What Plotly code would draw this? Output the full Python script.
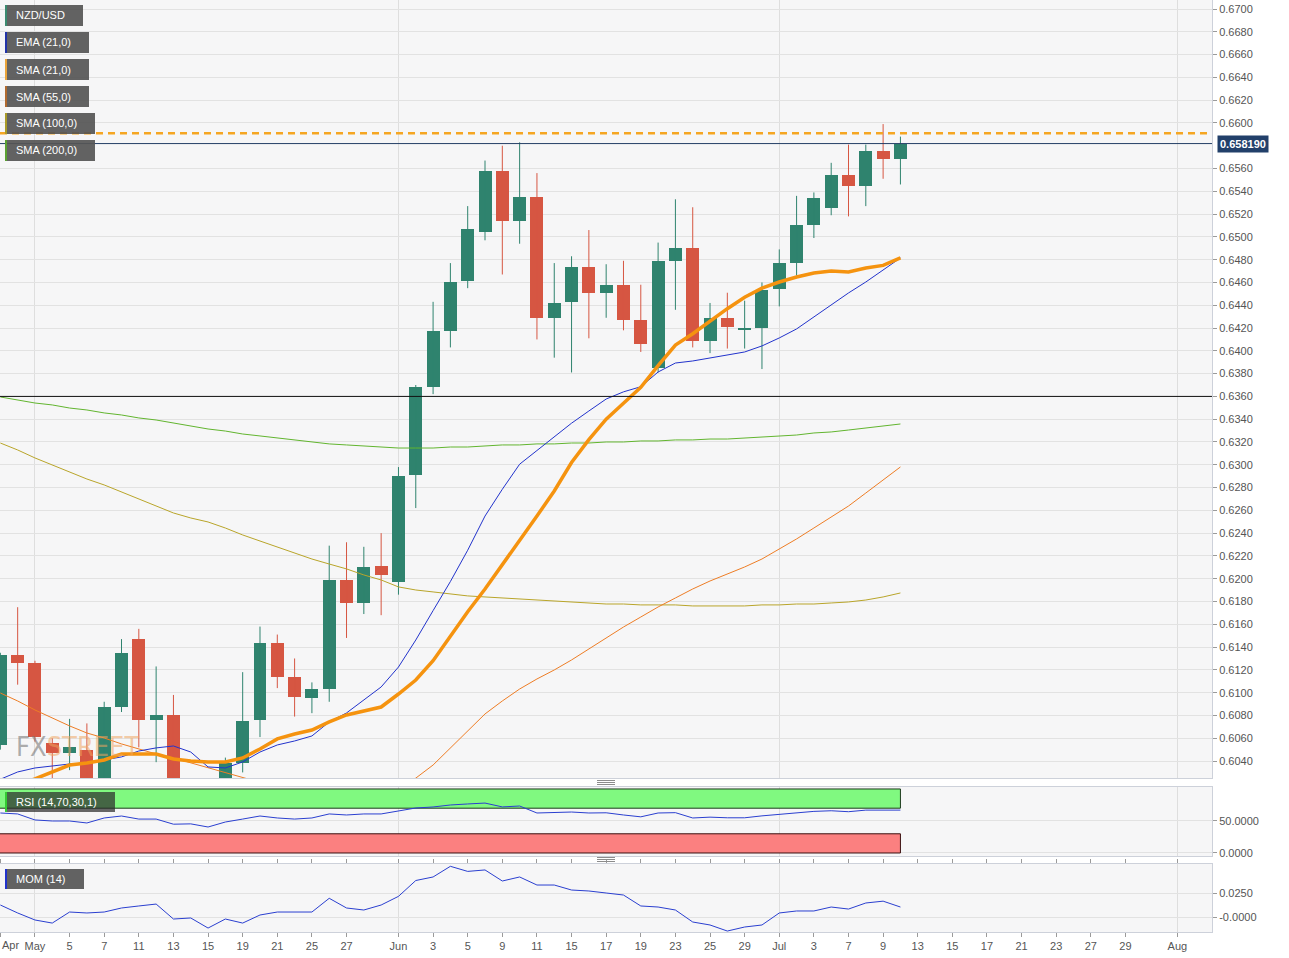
import plotly.graph_objects as go

# ---------------- data (trading days, NZD/USD daily) ----------------
dates = ["2020-04-29", "2020-04-30", "2020-05-01", "2020-05-04", "2020-05-05", "2020-05-06",
         "2020-05-07", "2020-05-08", "2020-05-11", "2020-05-12", "2020-05-13", "2020-05-14",
         "2020-05-15", "2020-05-18", "2020-05-19", "2020-05-20", "2020-05-21", "2020-05-22",
         "2020-05-25", "2020-05-26", "2020-05-27", "2020-05-28", "2020-05-29", "2020-06-01",
         "2020-06-02", "2020-06-03", "2020-06-04", "2020-06-05", "2020-06-08", "2020-06-09",
         "2020-06-10", "2020-06-11", "2020-06-12", "2020-06-15", "2020-06-16", "2020-06-17",
         "2020-06-18", "2020-06-19", "2020-06-22", "2020-06-23", "2020-06-24", "2020-06-25",
         "2020-06-26", "2020-06-29", "2020-06-30", "2020-07-01", "2020-07-02", "2020-07-03",
         "2020-07-06", "2020-07-07", "2020-07-08", "2020-07-09", "2020-07-10"]

opens = [0.6054, 0.6133, 0.6126, 0.6056, 0.6047, 0.6050, 0.6002, 0.6087, 0.6147, 0.6076,
         0.6080, 0.5985, 0.5998, 0.5938, 0.6038, 0.6076, 0.6144, 0.6114, 0.6095, 0.6103,
         0.6199, 0.6179, 0.6211, 0.6197, 0.6291, 0.6368, 0.6417, 0.6461, 0.6504, 0.6558,
         0.6514, 0.6535, 0.6429, 0.6443, 0.6474, 0.6451, 0.6458, 0.6427, 0.6385, 0.6479,
         0.6490, 0.6409, 0.6429, 0.6418, 0.6420, 0.6454, 0.6477, 0.6510, 0.6525, 0.6554,
         0.6545, 0.6575, 0.6568]
highs = [0.6135, 0.6175, 0.6128, 0.6060, 0.6077, 0.6073, 0.6092, 0.6147, 0.6156, 0.6123,
         0.6098, 0.6015, 0.6005, 0.6043, 0.6118, 0.6158, 0.6151, 0.6130, 0.6109, 0.6229,
         0.6232, 0.6228, 0.6240, 0.6298, 0.6370, 0.6443, 0.6477, 0.6527, 0.6567, 0.6580,
         0.6583, 0.6556, 0.6477, 0.6483, 0.6506, 0.6476, 0.6479, 0.6458, 0.6495, 0.6533,
         0.6526, 0.6442, 0.6451, 0.6444, 0.6460, 0.6489, 0.6536, 0.6539, 0.6565, 0.6581,
         0.6581, 0.6599, 0.6588]
lows = [0.6050, 0.6107, 0.6057, 0.6015, 0.6032, 0.5985, 0.5990, 0.6083, 0.6052, 0.6039,
        0.5975, 0.5960, 0.5920, 0.5930, 0.6030, 0.6061, 0.6104, 0.6079, 0.6082, 0.6092,
        0.6148, 0.6169, 0.6168, 0.6186, 0.6262, 0.6362, 0.6403, 0.6455, 0.6497, 0.6467,
        0.6494, 0.6410, 0.6394, 0.6381, 0.6411, 0.6429, 0.6418, 0.6399, 0.6381, 0.6436,
        0.6403, 0.6398, 0.6402, 0.6402, 0.6384, 0.6439, 0.6466, 0.6499, 0.6519, 0.6518,
        0.6527, 0.6551, 0.6546]
closes = [0.6133, 0.6126, 0.6061, 0.6047, 0.6052, 0.6000, 0.6087, 0.6135, 0.6076, 0.6080,
          0.5985, 0.5998, 0.5935, 0.6038, 0.6075, 0.6144, 0.6114, 0.6096, 0.6103, 0.6199,
          0.6179, 0.6210, 0.6203, 0.6290, 0.6368, 0.6417, 0.6460, 0.6507, 0.6558, 0.6514,
          0.6535, 0.6429, 0.6442, 0.6474, 0.6451, 0.6458, 0.6427, 0.6406, 0.6479, 0.6490,
          0.6409, 0.6429, 0.6421, 0.6420, 0.6453, 0.6477, 0.6510, 0.6534, 0.6554, 0.6545,
          0.6575, 0.6568, 0.65819]

ema21 = [0.6024, 0.60304, 0.60339, 0.60357, 0.60374, 0.60383, 0.60409, 0.60436, 0.60488, 0.60515,
         0.60532, 0.60479, 0.60348, 0.60339, 0.60392, 0.60479, 0.60541, 0.60576, 0.60620, 0.60743,
         0.60822, 0.60936, 0.61050, 0.61225, 0.61462, 0.61720, 0.61975, 0.62250, 0.62550, 0.62785,
         0.63005, 0.63125, 0.63245, 0.63365, 0.63472, 0.63577, 0.63640, 0.63685, 0.63814, 0.63893,
         0.63911, 0.63937, 0.63964, 0.63990, 0.64043, 0.64113, 0.64192, 0.64297, 0.64402, 0.64508,
         0.64604, 0.64710, 0.64815]
sma21 = [0.6012, 0.6019, 0.60243, 0.60304, 0.60365, 0.60383, 0.60409, 0.60462, 0.60462, 0.60462,
         0.60418, 0.60400, 0.60392, 0.60392, 0.60427, 0.60506, 0.60594, 0.60637, 0.60672, 0.60743,
         0.60804, 0.60839, 0.60874, 0.60988, 0.61111, 0.61280, 0.61500, 0.61710, 0.61910, 0.62120,
         0.62340, 0.62550, 0.62770, 0.63020, 0.63220, 0.63400, 0.63540, 0.63680, 0.63870, 0.64051,
         0.64150, 0.64260, 0.64370, 0.64470, 0.64550, 0.64604, 0.64648, 0.64683, 0.64701, 0.64692,
         0.64727, 0.64750, 0.64815]
sma55 = [0.60997, 0.60927, 0.60848, 0.60778, 0.60708, 0.60646, 0.60602, 0.60550, 0.60506, 0.60462,
         0.60427, 0.60383, 0.60339, 0.60295, 0.60251, 0.6021, 0.6017, 0.6014, 0.6012, 0.6011,
         0.6010, 0.6010, 0.6011, 0.6015, 0.6025, 0.60365, 0.60515, 0.60672, 0.60813, 0.60927,
         0.61032, 0.61120, 0.61199, 0.61287, 0.61383, 0.61480, 0.61576, 0.61664, 0.61752, 0.61831,
         0.61910, 0.61980, 0.62042, 0.62103, 0.62173, 0.62261, 0.62349, 0.62445, 0.62542, 0.62638,
         0.62752, 0.62867, 0.62981]
sma100 = [0.63191, 0.63130, 0.63060, 0.62998, 0.62937, 0.62875, 0.62823, 0.62761, 0.62700, 0.62638,
          0.62577, 0.62533, 0.62498, 0.62445, 0.62384, 0.62331, 0.62279, 0.62226, 0.62173, 0.62129,
          0.62086, 0.62033, 0.61989, 0.61928, 0.61901, 0.61884, 0.61866, 0.61849, 0.61840, 0.61831,
          0.61822, 0.61813, 0.61805, 0.61796, 0.61787, 0.61778, 0.61778, 0.61770, 0.61770, 0.61770,
          0.61761, 0.61761, 0.61761, 0.61761, 0.61770, 0.61770, 0.61778, 0.61778, 0.61787, 0.61796,
          0.61813, 0.61840, 0.61875]
sma200 = [0.63595, 0.63569, 0.63542, 0.63525, 0.63498, 0.63481, 0.63455, 0.63437, 0.63411, 0.63393,
          0.63367, 0.63340, 0.63314, 0.63296, 0.63270, 0.63253, 0.63235, 0.63218, 0.63200, 0.63183,
          0.63174, 0.63165, 0.63156, 0.63147, 0.63147, 0.63147, 0.63156, 0.63156, 0.63165, 0.63174,
          0.63174, 0.63183, 0.63183, 0.63191, 0.63191, 0.63200, 0.63200, 0.63209, 0.63209, 0.63218,
          0.63218, 0.63226, 0.63226, 0.63235, 0.63244, 0.63253, 0.63261, 0.63279, 0.63288, 0.63305,
          0.63323, 0.63340, 0.63358]

rsi14 = [62.5, 61.0, 51.6, 50.0, 50.0, 46.9, 54.7, 57.8, 53.0, 53.0,
         45.0, 45.5, 40.6, 48.4, 53.0, 57.8, 54.7, 53.0, 54.7, 61.0,
         59.4, 61.0, 61.0, 65.6, 70.3, 71.9, 75.0, 76.6, 78.0, 72.0,
         73.4, 62.5, 63.0, 64.0, 62.5, 62.8, 59.4, 56.5, 62.5, 63.0,
         54.7, 56.0, 55.0, 55.0, 58.0, 60.5, 63.0, 65.0, 66.0, 64.5,
         67.0, 66.5, 67.0]
mom14 = [0.0125, 0.0042, -0.0031, -0.0063, 0.0052, 0.0042, 0.0052, 0.0094, 0.0115, 0.0135,
         -0.0021, -0.0010, -0.0115, -0.0021, -0.0063, 0.0021, 0.0052, 0.0052, 0.0052, 0.0195,
         0.0094, 0.0073, 0.0125, 0.0215, 0.0380, 0.0417, 0.0528, 0.0475, 0.0490, 0.0375,
         0.0417, 0.0333, 0.0333, 0.0281, 0.0271, 0.0250, 0.0229, 0.0115, 0.0104, 0.0073,
         -0.0052, -0.0083, -0.0146, -0.0104, -0.0083, 0.0042, 0.0063, 0.0063, 0.0104, 0.0083,
         0.0146, 0.0165, 0.0104]

tick_pos = [0, 2, 4, 6, 8, 10, 12, 14, 16, 18, 20, 23, 25, 27, 29, 31, 33, 35, 37, 39, 41,
            43, 45, 47, 49, 51, 53, 55, 57, 59, 61, 63, 65, 68]
tick_text = ["", "May", "5", "7", "11", "13", "15", "19", "21", "25", "27", "Jun", "3", "5",
             "9", "11", "15", "17", "19", "23", "25", "29", "Jul", "3", "7", "9", "13", "15",
             "17", "21", "23", "27", "29", "Aug"]
first_tick_label = "Apr"
month_starts = [2, 23, 45, 68]

price_ticks = [0.6040, 0.6060, 0.6080, 0.6100, 0.6120, 0.6140, 0.6160, 0.6180, 0.6200,
               0.6220, 0.6240, 0.6260, 0.6280, 0.6300, 0.6320, 0.6340, 0.6360, 0.6380,
               0.6400, 0.6420, 0.6440, 0.6460, 0.6480, 0.6500, 0.6520, 0.6540, 0.6560,
               0.6600, 0.6620, 0.6640, 0.6660, 0.6680, 0.6700]
rsi_ticks = [0, 50]
rsi_tick_text = ["0.0000", "50.0000"]
mom_ticks = [0, 0.025]
mom_tick_text = ["-0.0000", "0.0250"]

support_level = 0.6360
resistance_level = 0.6591
last_price = 0.658190

legend_items = ["NZD/USD", "EMA (21,0)", "SMA (21,0)", "SMA (55,0)", "SMA (100,0)", "SMA (200,0)"]

# ---------------- styling ----------------
GREEN = "#2f836e"
RED = "#d65642"
FONT = "Liberation Sans, Arial, sans-serif"
PW, PH = 1212.0, 932.0  # plot area in px


def px(x):
    return x / PW


def py(y):
    return (PH - y) / PH


xs = list(range(len(dates)))
inc = [i for i in xs if closes[i] >= opens[i]]
dec = [i for i in xs if closes[i] < opens[i]]

fig = go.Figure()


def wick_trace(idx, color):
    wx, wy = [], []
    for i in idx:
        wx += [i, i, None]
        wy += [lows[i], highs[i], None]
    return go.Scatter(x=wx, y=wy, mode="lines", line=dict(color=color, width=1),
                      hoverinfo="skip", yaxis="y")


fig.add_trace(wick_trace(inc, GREEN))
fig.add_trace(wick_trace(dec, RED))
fig.add_trace(go.Bar(x=inc, y=[closes[i] - opens[i] for i in inc], base=[opens[i] for i in inc],
                     width=0.75, marker=dict(color=GREEN, line=dict(width=0)),
                     customdata=[dates[i] for i in inc], yaxis="y", name="up"))
fig.add_trace(go.Bar(x=dec, y=[closes[i] - opens[i] for i in dec], base=[opens[i] for i in dec],
                     width=0.75, marker=dict(color=RED, line=dict(width=0)),
                     customdata=[dates[i] for i in dec], yaxis="y", name="down"))

fig.add_trace(go.Scatter(x=xs, y=sma200, mode="lines", line=dict(color="#62b52f", width=1), yaxis="y"))
fig.add_trace(go.Scatter(x=xs, y=sma100, mode="lines", line=dict(color="#b9a52a", width=1), yaxis="y"))
fig.add_trace(go.Scatter(x=xs, y=sma55, mode="lines", line=dict(color="#ee7d25", width=1), yaxis="y"))
fig.add_trace(go.Scatter(x=xs, y=ema21, mode="lines", line=dict(color="#2233cc", width=1), yaxis="y"))
fig.add_trace(go.Scatter(x=xs, y=sma21, mode="lines", line=dict(color="#f5930f", width=3.5), yaxis="y"))

fig.add_trace(go.Scatter(x=xs, y=rsi14, mode="lines", line=dict(color="#2a3fd0", width=1), yaxis="y2"))
fig.add_trace(go.Scatter(x=xs, y=mom14, mode="lines", line=dict(color="#2a3fd0", width=1), yaxis="y3"))

shapes = []
# horizontal level lines
shapes.append(dict(type="line", xref="paper", yref="y", x0=0, x1=1, y0=support_level, y1=support_level,
                   line=dict(color="#111111", width=1)))
shapes.append(dict(type="line", xref="paper", yref="y", x0=0, x1=1, y0=last_price, y1=last_price,
                   line=dict(color="#243e66", width=1)))
shapes.append(dict(type="line", xref="paper", yref="y", x0=0, x1=1, y0=resistance_level, y1=resistance_level,
                   line=dict(color="#f5a623", width=2.5, dash="7px,5px")))
# RSI zones (above grid, below traces)
shapes.append(dict(type="rect", xref="x", yref="y2", x0=-1, x1=xs[-1], y0=70, y1=100,
                   fillcolor="#80f980", line=dict(color="#1d3a1d", width=1), layer="between"))
shapes.append(dict(type="rect", xref="x", yref="y2", x0=-1, x1=xs[-1], y0=0, y1=30,
                   fillcolor="#fb8080", line=dict(color="#3a1010", width=1), layer="between"))
# panel drag handles
for yy in (780.5, 782.5, 784.5, 857.5, 859.5, 861.5):
    shapes.append(dict(type="line", xref="paper", yref="paper", x0=px(597), x1=px(615),
                       y0=py(yy), y1=py(yy), line=dict(color="#8c8c8c", width=1)))

annotations = []
# legend boxes
box_rights = [83, 89, 89, 89, 95, 95]
bar_colors = ["#3a8a70", "#2233a8", "#e8a33a", "#b06a30", "#a89a28", "#5aa032"]
for k, label in enumerate(legend_items):
    top = 5 + 27 * k
    shapes.append(dict(type="rect", xref="paper", yref="paper", x0=px(5), x1=px(box_rights[k]),
                       y0=py(top + 21), y1=py(top), fillcolor="rgba(85,85,85,0.92)",
                       line=dict(width=0), layer="above"))
    shapes.append(dict(type="rect", xref="paper", yref="paper", x0=px(5), x1=px(7),
                       y0=py(top + 21), y1=py(top), fillcolor=bar_colors[k],
                       line=dict(width=0), layer="above"))
    annotations.append(dict(xref="paper", yref="paper", x=px(14), y=py(top + 10.5), text=label,
                            showarrow=False, xanchor="left", yanchor="middle",
                            font=dict(family=FONT, size=11, color="white")))

# RSI / MOM labels
shapes.append(dict(type="rect", xref="paper", yref="paper", x0=px(5), x1=px(115), y0=py(812), y1=py(792),
                   fillcolor="rgba(45,45,45,0.72)", line=dict(width=0), layer="above"))
shapes.append(dict(type="rect", xref="paper", yref="paper", x0=px(5), x1=px(7), y0=py(812), y1=py(792),
                   fillcolor="#33cc33", line=dict(width=0), layer="above"))
annotations.append(dict(xref="paper", yref="paper", x=px(14), y=py(802), text="RSI (14,70,30,1)",
                        showarrow=False, xanchor="left", yanchor="middle",
                        font=dict(family=FONT, size=11, color="white")))
shapes.append(dict(type="rect", xref="paper", yref="paper", x0=px(5), x1=px(84), y0=py(889), y1=py(869),
                   fillcolor="rgba(85,85,85,0.92)", line=dict(width=0), layer="above"))
shapes.append(dict(type="rect", xref="paper", yref="paper", x0=px(5), x1=px(7), y0=py(889), y1=py(869),
                   fillcolor="#2233cc", line=dict(width=0), layer="above"))
annotations.append(dict(xref="paper", yref="paper", x=px(14), y=py(879), text="MOM (14)",
                        showarrow=False, xanchor="left", yanchor="middle",
                        font=dict(family=FONT, size=11, color="white")))

# last price tag
annotations.append(dict(xref="paper", yref="y", x=1, y=last_price, text="<b>%.6f</b>" % last_price,
                        showarrow=False, xanchor="left", yanchor="middle", xshift=5,
                        bgcolor="#22406a", borderpad=2,
                        font=dict(family=FONT, size=11, color="white")))
# first x tick label
annotations.append(dict(xref="paper", yref="paper", x=0, y=py(945), text=first_tick_label,
                        showarrow=False, xanchor="left", yanchor="middle",
                        font=dict(family=FONT, size=11, color="#555555")))
# FXStreet mark
annotations.append(dict(xref="paper", yref="paper", x=px(14), y=py(746),
                        text='<span style="color:rgba(120,120,120,0.6)">FX</span>'
                             '<span style="color:rgba(240,165,95,0.55)">STREET</span>',
                        showarrow=False, xanchor="left", yanchor="middle",
                        font=dict(family="DejaVu Sans Condensed, Liberation Sans Narrow, sans-serif",
                                  size=27)))

axis_font = dict(family=FONT, size=11, color="#555555")
yaxis_common = dict(side="right", anchor="x", showline=True, linecolor="#cdd1da", mirror=True,
                    ticks="outside", ticklen=4, tickcolor="#9a9a9a", tickfont=axis_font,
                    gridcolor="#e2e2e2", zeroline=False, fixedrange=True, automargin=False,
                    tickmode="array")

fig.update_layout(
    width=1289, height=958,
    margin=dict(l=0, r=77, t=0, b=26, autoexpand=False),
    paper_bgcolor="white", plot_bgcolor="#f6f6f7",
    showlegend=False, barmode="overlay", bargap=0,
    xaxis=dict(range=[-0.02, 70.0], anchor="y3", tickmode="array", tickvals=tick_pos, ticktext=tick_text,
               showgrid=False, zeroline=False, showline=True, linecolor="#cdd1da", mirror="all",
               ticks="outside", ticklen=4, tickcolor="#9a9a9a", tickfont=axis_font, automargin=False,
               minor=dict(tickmode="array", tickvals=month_starts, showgrid=True,
                          gridcolor="#dedede", ticks="")),
    yaxis=dict(domain=[py(778), 1.0], range=[0.60251, 0.67079], tickvals=price_ticks,
               tickformat=".4f", **yaxis_common),
    yaxis2=dict(domain=[py(856), py(787)], range=[-4.7, 103.1],
                tickvals=rsi_ticks, ticktext=rsi_tick_text, **yaxis_common),
    yaxis3=dict(domain=[0.0, py(864)], range=[-0.0156, 0.0552],
                tickvals=mom_ticks, ticktext=mom_tick_text, **yaxis_common),
    shapes=shapes, annotations=annotations,
    font=dict(family=FONT),
)

fig.write_html("out.html", config={"displayModeBar": False},
               post_script="document.body.style.margin='0px';document.body.style.overflow='hidden';")
